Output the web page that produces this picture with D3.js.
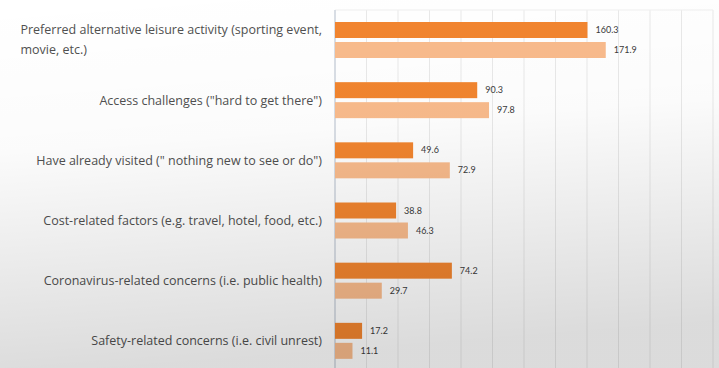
<!DOCTYPE html>
<html>
<head>
<meta charset="utf-8">
<script src="https://cdn.jsdelivr.net/npm/d3@7"></script>
<style>
  body { margin: 0; background: #fff; }
  svg { display: block; }
</style>
</head>
<body>
<div id="chart"></div>
<script>
var categories = [
  ["Preferred alternative leisure activity (sporting event,", "movie, etc.)"],
  ["Access challenges (\"hard to get there\")"],
  ["Have already visited (\" nothing new to see or do\")"],
  ["Cost-related factors (e.g. travel, hotel, food, etc.)"],
  ["Coronavirus-related concerns (i.e. public health)"],
  ["Safety-related concerns (i.e. civil unrest)"]
];
var seriesA = [160.3, 90.3, 49.6, 38.8, 74.2, 17.2];
var seriesB = [171.9, 97.8, 72.9, 46.3, 29.7, 11.1];
var gridTicks = [0, 20, 40, 60, 80, 100, 120, 140, 160, 180, 200, 220, 240];

var width = 719, height = 368;
var margin = { top: 10, right: 6, bottom: -3, left: 335 };

var svg = d3.select("#chart").append("svg")
  .attr("width", width)
  .attr("height", height);

var defs = svg.append("defs");
var shade = defs.append("linearGradient")
  .attr("id", "shade").attr("x1", 0).attr("y1", 0).attr("x2", 0.15).attr("y2", 1);
shade.append("stop").attr("offset", "0%").attr("stop-color", "#000").attr("stop-opacity", 0);
shade.append("stop").attr("offset", "40%").attr("stop-color", "#000").attr("stop-opacity", 0.015);
shade.append("stop").attr("offset", "100%").attr("stop-color", "#000").attr("stop-opacity", 0.14);

svg.append("rect").attr("width", width).attr("height", height).attr("fill", "#fff");

var idx = d3.range(categories.length);

var x = d3.scaleLinear().domain([0, 240]).range([margin.left, width - margin.right]);
var y = d3.scaleBand().domain(idx).range([margin.top, height - margin.bottom]);
var inner = d3.scaleBand().domain(["a", "b"]).range([0, 40]).paddingInner(0.2).paddingOuter(0.1);

// grid
svg.append("g").selectAll("line")
  .data(gridTicks.slice(1))
  .join("line")
  .attr("x1", d => x(d)).attr("x2", d => x(d))
  .attr("y1", margin.top).attr("y2", height)
  .attr("stroke", "#e9e9e9").attr("stroke-width", 1);

svg.append("line")
  .attr("x1", margin.left).attr("x2", width - margin.right)
  .attr("y1", margin.top).attr("y2", margin.top)
  .attr("stroke", "#efefef");

// axis line
svg.append("line")
  .attr("x1", margin.left).attr("x2", margin.left)
  .attr("y1", margin.top).attr("y2", height)
  .attr("stroke", "#cdd3dc").attr("stroke-width", 1.5);

var groups = svg.append("g").selectAll("g")
  .data(idx)
  .join("g")
  .attr("transform", d => "translate(0," + (y(d) + 10) + ")");

groups.append("rect")
  .attr("x", x(0))
  .attr("y", inner("a"))
  .attr("width", d => x(seriesA[d]) - x(0))
  .attr("height", inner.bandwidth())
  .attr("fill", "#f2852f");

groups.append("rect")
  .attr("x", x(0))
  .attr("y", inner("b"))
  .attr("width", d => x(seriesB[d]) - x(0))
  .attr("height", inner.bandwidth())
  .attr("fill", "#f9bb8c");

groups.append("text")
  .attr("x", d => x(seriesA[d]) + 8)
  .attr("y", inner("a") + inner.bandwidth() / 2)
  .attr("dy", "0.35em")
  .attr("font-family", "Lato, sans-serif").attr("font-size", 9)
  .attr("fill", "#3a3a3a")
  .text(d => seriesA[d].toFixed(1));

groups.append("text")
  .attr("x", d => x(seriesB[d]) + 8)
  .attr("y", inner("b") + inner.bandwidth() / 2)
  .attr("dy", "0.35em")
  .attr("font-family", "Lato, sans-serif").attr("font-size", 9)
  .attr("fill", "#3a3a3a")
  .text(d => seriesB[d].toFixed(1));

// category labels
var labelX = margin.left - 13;
var labels = svg.append("g").selectAll("text")
  .data(idx)
  .join("text")
  .attr("font-family", "'Open Sans', sans-serif").attr("font-size", 12.5)
  .attr("fill", "#505050")
  .attr("y", d => y(d) + y.bandwidth() / 2)
  .attr("dy", "0.35em");

labels.each(function(d) {
  var t = d3.select(this);
  var lines = categories[d];
  if (lines.length === 1) {
    t.attr("x", labelX).attr("text-anchor", "end").text(lines[0]);
  } else {
    var first = t.append("tspan").text(lines[0]);
    var w = first.node().getComputedTextLength();
    var left = labelX - w;
    first.attr("x", left).attr("dy", "-0.45em");
    t.append("tspan").attr("x", left).attr("dy", "1.55em").text(lines[1]);
  }
});

// photo-like shading
svg.append("rect").attr("width", width).attr("height", height).attr("fill", "url(#shade)");
</script>
</body>
</html>
